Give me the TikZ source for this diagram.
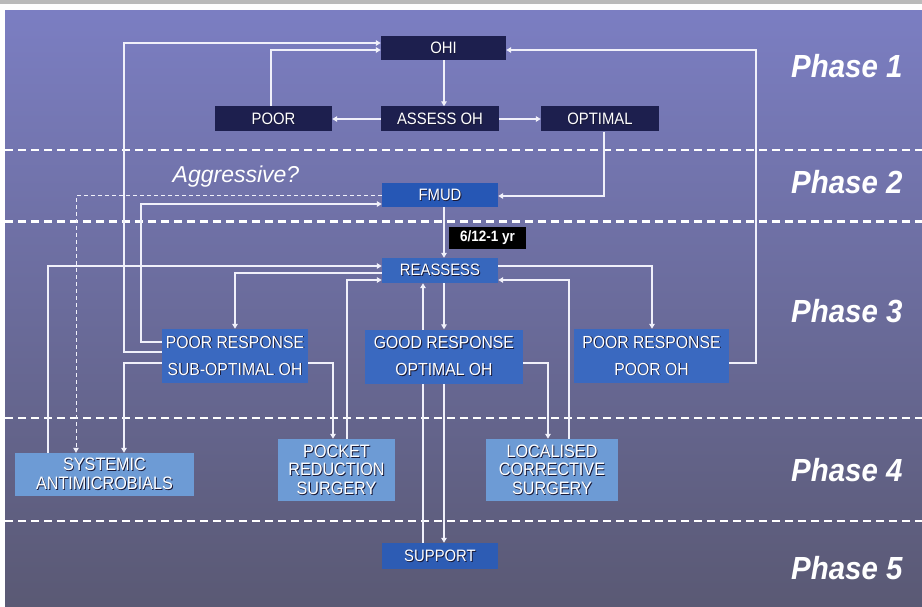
\documentclass[tikz,border=0pt]{standalone}
\usepackage{fontspec}
\setmainfont{Liberation Sans}
\newfontfamily\bxf[FakeStretch=0.9]{Liberation Sans}
\newfontfamily\phf[FakeStretch=0.92]{Liberation Sans}
\usetikzlibrary{arrows.meta}
\definecolor{bgtop}{RGB}{123,126,194}
\definecolor{bgmid}{RGB}{108,108,166}
\definecolor{bgbot}{RGB}{90,89,116}
\definecolor{navyc}{RGB}{29,31,78}
\definecolor{fmudc}{RGB}{38,87,181}
\definecolor{reac}{RGB}{55,103,189}
\definecolor{midc}{RGB}{58,105,192}
\definecolor{lightc}{RGB}{109,155,213}
\definecolor{supc}{RGB}{45,92,180}
\definecolor{shc}{RGB}{25,25,55}
\definecolor{linec}{RGB}{240,240,250}
\newcommand\shd[1]{\leavevmode\rlap{\kern0.9pt\raisebox{-0.9pt}{\color{shc}#1}}#1}
\pgfdeclarelayer{back}
\pgfdeclarelayer{lines}
\pgfsetlayers{back,lines,main}
\tikzset{
  bx/.style={inner sep=0pt, text=white, align=center},
  f1/.style={font=\bxf\fontsize{16.5}{20}\selectfont},
  f3/.style={font=\bxf\fontsize{17.5}{27}\selectfont},
  f4/.style={font=\bxf\fontsize{18}{18.5}\selectfont},
  arr/.style={draw=linec, line width=1.2pt, -{Triangle[length=5pt,width=5.5pt]}},
  sep/.style={draw=white, line width=2.6pt, dash pattern=on 8pt off 5pt},
  phase/.style={anchor=east, text=white, font=\phf\bfseries\itshape\fontsize{32}{32}\selectfont},
}
\begin{document}
\begin{tikzpicture}[x=1pt,y=-1pt]
\useasboundingbox (0,0) rectangle (922,607);
% nodes
\node[bx,f1,fill=navyc,minimum width=125,minimum height=24] (ohi) at (443.5,48) {\shd{OHI}};
\node[bx,f1,fill=navyc,minimum width=118,minimum height=25] (assess) at (440,119) {\shd{ASSESS OH}};
\node[bx,f1,fill=navyc,minimum width=117,minimum height=25] (poor) at (273.5,119) {\shd{POOR}};
\node[bx,f1,fill=navyc,minimum width=118,minimum height=25] (optimal) at (600,119) {\shd{OPTIMAL}};
\node[bx,f1,fill=fmudc,minimum width=116,minimum height=24] (fmud) at (440,195) {\shd{FMUD}};
\node[bx,fill=black,minimum width=77,minimum height=22,font=\bxf\bfseries\fontsize{15}{15}\selectfont] (lab) at (487.5,238) {6/12-1 yr};
\node[bx,f1,fill=reac,minimum width=116,minimum height=25] (reassess) at (440,270.5) {\shd{REASSESS}};
\node[bx,f3,fill=midc,minimum width=146,minimum height=54] (pr1) at (235,356) {\shd{POOR RESPONSE}\\\shd{SUB-OPTIMAL OH}};
\node[bx,f3,fill=midc,minimum width=158,minimum height=54] (good) at (444,356.5) {\shd{GOOD RESPONSE}\\\shd{OPTIMAL OH}};
\node[bx,f3,fill=midc,minimum width=155,minimum height=54] (pr2) at (651.5,356) {\shd{POOR RESPONSE}\\\shd{POOR OH}};
\node[bx,f4,fill=lightc,minimum width=179,minimum height=43] (systemic) at (104.5,474.5) {\shd{SYSTEMIC}\\\shd{ANTIMICROBIALS}};
\node[bx,f4,fill=lightc,minimum width=117,minimum height=62] (pocket) at (336.5,470) {\shd{POCKET}\\\shd{REDUCTION}\\\shd{SURGERY}};
\node[bx,f4,fill=lightc,minimum width=132,minimum height=62] (localised) at (552,470) {\shd{LOCALISED}\\\shd{CORRECTIVE}\\\shd{SURGERY}};
\node[bx,f1,fill=supc,minimum width=116,minimum height=26] (support) at (440,556) {\shd{SUPPORT}};
% texts
\node[phase] (ph1) at (906,66) {Phase 1};
\node[phase] (ph2) at (906,182) {Phase 2};
\node[phase] (ph3) at (906,311) {Phase 3};
\node[phase] (ph4) at (906,470) {Phase 4};
\node[phase] (ph5) at (906,568) {Phase 5};
\node[text=white,font=\itshape\fontsize{23}{23}\selectfont] (agg) at (236,177) {Aggressive?};
% background
\begin{pgfonlayer}{back}
\fill[white] (0,0) rectangle (922,607);
\fill[black!27] (0,0) rectangle (922,4);
\shade[top color=bgtop, middle color=bgmid, bottom color=bgbot] (5,11) rectangle (922,607);
\draw[sep] (5,150) -- (922,150);
\draw[sep] (5,221.5) -- (922,221.5);
\draw[sep] (5,418) -- (922,418);
\draw[sep] (5,521) -- (922,521);
\end{pgfonlayer}
% connectors
\begin{pgfonlayer}{lines}
\coordinate (cx) at (444,0);
\coordinate (cx2) at (423,0);
\draw[arr] (ohi.south -| cx) -- (assess.north -| cx);
\draw[arr] (assess.west) -- (poor.east);
\draw[arr] (assess.east) -- (optimal.west);
\coordinate (k4) at (271,50);
\draw[arr] (poor.north -| k4) -- (k4) -- (ohi.west |- k4);
\coordinate (k5a) at (124,352); \coordinate (k5b) at (124,43);
\draw[arr] (pr1.west |- k5a) -- (k5a) -- (k5b) -- (ohi.west |- k5b);
\coordinate (k6a) at (756,363); \coordinate (k6b) at (756,50);
\draw[arr] (pr2.east |- k6a) -- (k6a) -- (k6b) -- (ohi.east |- k6b);
\coordinate (k7a) at (604,196);
\draw[arr] (optimal.south -| k7a) -- (k7a) -- (fmud.east |- k7a);
\coordinate (k8a) at (76,196);
\draw[arr,line width=1pt,dash pattern=on 4pt off 3pt] (fmud.west |- k8a) -- (k8a) -- (systemic.north -| k8a);
\coordinate (k9a) at (141,342); \coordinate (k9b) at (141,204);
\draw[arr] (pr1.west |- k9a) -- (k9a) -- (k9b) -- (fmud.west |- k9b);
\draw[arr] (fmud.south -| cx) -- (reassess.north -| cx);
\coordinate (k11a) at (48,266);
\draw[arr] (systemic.north -| k11a) -- (k11a) -- (reassess.west |- k11a);
\coordinate (k12a) at (235,273);
\draw[arr] (reassess.west |- k12a) -- (k12a) -- (pr1.north -| k12a);
\coordinate (k13a) at (347,280);
\draw[arr] (pocket.north -| k13a) -- (k13a) -- (reassess.west |- k13a);
\coordinate (k14a) at (652,266);
\draw[arr] (reassess.east |- k14a) -- (k14a) -- (pr2.north -| k14a);
\coordinate (k15a) at (569,280);
\draw[arr] (localised.north -| k15a) -- (k15a) -- (reassess.east |- k15a);
\draw[arr] (reassess.south -| cx) -- (good.north -| cx);
\draw[arr] (support.north -| cx2) -- (reassess.south -| cx2);
\draw[arr] (good.south -| cx) -- (support.north -| cx);
\coordinate (k19a) at (333,363);
\draw[arr] (pr1.east |- k19a) -- (k19a) -- (pocket.north -| k19a);
\coordinate (k20a) at (124,363);
\draw[arr] (pr1.west |- k20a) -- (k20a) -- (systemic.north -| k20a);
\coordinate (k21a) at (548,363);
\draw[arr] (good.east |- k21a) -- (k21a) -- (localised.north -| k21a);
\end{pgfonlayer}
\end{tikzpicture}
\end{document}
